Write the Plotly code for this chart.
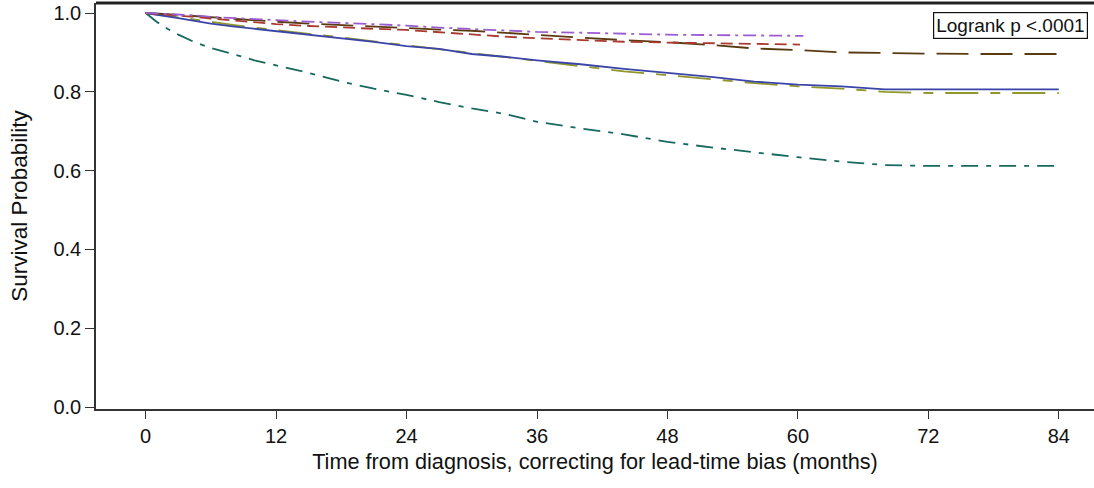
import plotly.graph_objects as go

# Time points (months)
t_full = [0, 1, 2, 3, 4.5, 6, 8, 10, 12, 15, 18, 21, 24, 27, 30, 33, 36, 40, 44, 48,
          52, 56, 60, 64, 68, 72, 76, 80, 84]
t_short = [0, 2, 4.5, 6, 8, 10, 12, 15, 18, 21, 24, 27, 30, 33, 36, 40, 44, 48, 52, 56]

teal_surv = [1.0, 0.978, 0.960, 0.945, 0.926, 0.911, 0.896, 0.880, 0.867, 0.848, 0.826,
             0.808, 0.792, 0.774, 0.758, 0.744, 0.724, 0.707, 0.692, 0.673, 0.659, 0.646,
             0.634, 0.623, 0.614, 0.612, 0.612, 0.612, 0.612]
blue_surv = [1.0, 0.996, 0.991, 0.987, 0.980, 0.973, 0.966, 0.960, 0.954, 0.946, 0.936,
             0.927, 0.916, 0.909, 0.896, 0.889, 0.880, 0.870, 0.858, 0.848, 0.838, 0.826,
             0.818, 0.814, 0.806, 0.806, 0.806, 0.806, 0.806]
olive_surv = [1.0, 0.997, 0.993, 0.989, 0.983, 0.977, 0.970, 0.963, 0.957, 0.948, 0.938,
              0.928, 0.918, 0.908, 0.898, 0.888, 0.878, 0.866, 0.852, 0.842, 0.832, 0.822,
              0.814, 0.808, 0.800, 0.797, 0.797, 0.797, 0.797]
brown_surv = [1.0, 0.999, 0.997, 0.995, 0.992, 0.989, 0.985, 0.981, 0.978, 0.973, 0.969,
              0.965, 0.961, 0.958, 0.955, 0.950, 0.944, 0.937, 0.931, 0.926, 0.919, 0.910,
              0.906, 0.900, 0.898, 0.897, 0.896, 0.896, 0.896]
purple_t = t_short + [60.5]
purple_surv = [1.0, 0.998, 0.994, 0.990, 0.987, 0.984, 0.982, 0.978, 0.975, 0.972, 0.968,
               0.963, 0.959, 0.955, 0.952, 0.950, 0.947, 0.945, 0.944, 0.943, 0.942]
red_t = t_short + [60.2]
red_surv = [1.0, 0.996, 0.990, 0.986, 0.981, 0.976, 0.972, 0.967, 0.963, 0.960, 0.957,
            0.951, 0.945, 0.940, 0.936, 0.932, 0.927, 0.925, 0.923, 0.921, 0.920]

x_ticks = [0, 12, 24, 36, 48, 60, 72, 84]
y_ticks = [0.0, 0.2, 0.4, 0.6, 0.8, 1.0]
y_tick_text = ["0.0", "0.2", "0.4", "0.6", "0.8", "1.0"]

series = [
    (t_full, olive_surv, "#8f962a", "33px,12px,10px,12px"),
    (t_full, blue_surv, "#3b45a8", "solid"),
    (t_full, teal_surv, "#17695e", "17px,8px,5px,8px"),
    (t_full, brown_surv, "#5a3a12", "32px,12px"),
    (red_t, red_surv, "#a83a30", "12px,6px"),
    (purple_t, purple_surv, "#9a5cd0", "13px,5px,3px,5px"),
]

fig = go.Figure()
for xs, ys, col, dash in series:
    fig.add_trace(go.Scatter(x=xs, y=ys, mode="lines",
                             line=dict(color=col, width=1.8, dash=dash),
                             showlegend=False, hoverinfo="skip"))

font_family = "Liberation Sans, Arial, sans-serif"

fig.update_layout(
    width=1094, height=488,
    margin=dict(l=96, r=0, t=3, b=79),
    paper_bgcolor="white", plot_bgcolor="white",
    font=dict(family=font_family, color="#111"),
    xaxis=dict(range=[-4.57, 87.24], tickvals=x_ticks, ticks="outside", ticklen=8,
               tickwidth=1.2, tickcolor="#333", showline=True, linecolor="#333",
               linewidth=1.5, showgrid=False, zeroline=False,
               tickfont=dict(size=20, family=font_family),
               title=dict(text="Time from diagnosis, correcting for lead-time bias (months)",
                          font=dict(size=21.7, family=font_family), standoff=8)),
    yaxis=dict(range=[-0.005, 1.0254], tickvals=y_ticks, ticktext=y_tick_text,
               ticks="outside", ticklen=9, tickwidth=1.2, tickcolor="#333",
               showline=True, linecolor="#333", linewidth=1.5, showgrid=False,
               zeroline=False, tickfont=dict(size=20, family=font_family),
               title=dict(text="Survival Probability",
                          font=dict(size=22.5, family=font_family), standoff=20)),
    shapes=[dict(type="line", xref="paper", yref="paper", x0=0, x1=1, y0=1, y1=1,
                 line=dict(color="#222", width=3))],
    annotations=[dict(text="Logrank p <.0001", xref="paper", yref="paper",
                      x=0.994, y=0.979, xanchor="right", yanchor="top",
                      showarrow=False, font=dict(size=19, family=font_family, color="#111"),
                      bordercolor="#111", borderwidth=1.2, borderpad=2,
                      bgcolor="white")],
)

fig.write_html("out.html", config={"displayModeBar": False},
               post_script="document.body.style.margin='0';document.body.style.overflow='hidden';")
